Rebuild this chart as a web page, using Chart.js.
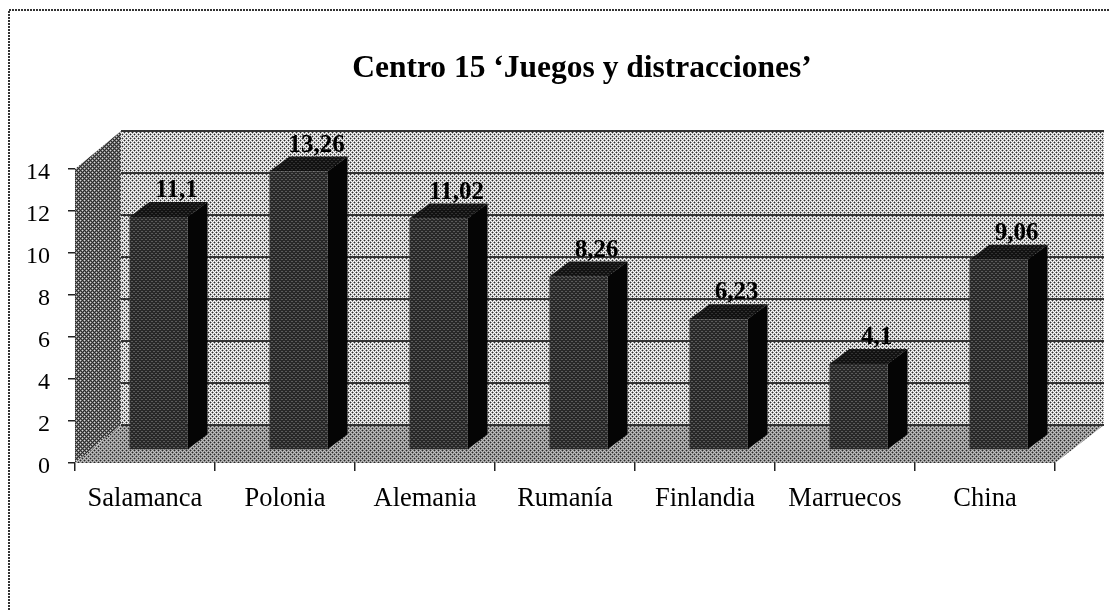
<!DOCTYPE html>
<html>
<head>
<meta charset="utf-8">
<script src="https://cdn.jsdelivr.net/npm/chart.js@4"></script>
<style>
  html, body { margin: 0; padding: 0; background: #fff; }
  #wrap { width: 1110px; height: 610px; }
</style>
</head>
<body>
<div id="wrap"><canvas id="chart" width="1110" height="610"></canvas></div>
<script>
const categories = ['Salamanca', 'Polonia', 'Alemania', 'Rumanía', 'Finlandia', 'Marruecos', 'China'];
const values = [11.1, 13.26, 11.02, 8.26, 6.23, 4.1, 9.06];
const yTicks = [0, 2, 4, 6, 8, 10, 12, 14];
const chartTitle = 'Centro 15 ‘Juegos y distracciones’';

const SERIF = '"Liberation Serif", serif';
// wall depth and how far the bars sit from the front plane
const DEPTH = { x: 46, y: -38 };
const BAR_OFFSET = { x: 13.5, y: -13 };
const BAR_DEPTH = { x: 20, y: -15 };

// halftone fills, the scan in the reference is a blurred black and white dither
const DOTS = [[1, .4, 0, .4], [.4, 0, .4, 0], [0, .4, 1, .4], [.4, 0, .4, 0]];
function dither(dot, ground) {
    const c = document.createElement('canvas');
    c.width = 4;
    c.height = 4;
    const g = c.getContext('2d');
    for (let y = 0; y < 4; y++) {
        for (let x = 0; x < 4; x++) {
            const v = Math.round(ground + (dot - ground) * DOTS[y][x]);
            g.fillStyle = `rgb(${v},${v},${v})`;
            g.fillRect(x, y, 1, 1);
        }
    }
    return document.getElementById('chart').getContext('2d').createPattern(c, 'repeat');
}

const fills = {
    wall: dither(40, 250),
    side: dither(215, 45),
    floor: dither(40, 190),
    barFront: dither(120, 20),
    barTop: dither(70, 5),
    barSide: '#050505'
};

function poly(ctx, pts, fill) {
    ctx.beginPath();
    pts.forEach((p, i) => i ? ctx.lineTo(p[0], p[1]) : ctx.moveTo(p[0], p[1]));
    ctx.closePath();
    ctx.fillStyle = fill;
    ctx.fill();
}

const scene3d = {
    id: 'scene3d',
    beforeDraw(chart) {
        const { ctx, chartArea: a } = chart;
        const dx = DEPTH.x, dy = DEPTH.y;

        // outer frame, only top and left survive in the scan
        ctx.save();
        ctx.strokeStyle = '#333';
        ctx.lineWidth = 2;
        ctx.setLineDash([2, 1]);
        ctx.beginPath();
        ctx.moveTo(9, 610);
        ctx.lineTo(9, 10);
        ctx.lineTo(1110, 10);
        ctx.stroke();
        ctx.restore();

        // title sits right of centre in the reference, so it is placed by hand
        ctx.save();
        ctx.font = 'bold 31.5px ' + SERIF;
        ctx.fillStyle = '#000';
        ctx.textAlign = 'center';
        ctx.textBaseline = 'alphabetic';
        ctx.fillText(chartTitle, 582, 77);
        ctx.restore();

        poly(ctx, [[a.left + dx, a.top + dy], [a.right + dx + 3, a.top + dy], [a.right + dx + 3, a.bottom + dy], [a.left + dx, a.bottom + dy]], fills.wall);
        poly(ctx, [[a.left, a.top], [a.left + dx, a.top + dy], [a.left + dx, a.bottom + dy], [a.left, a.bottom]], fills.side);
        poly(ctx, [[a.left, a.bottom], [a.left + dx, a.bottom + dy], [a.right + dx + 3, a.bottom + dy], [a.right, a.bottom]], fills.floor);

        // gridlines on the back wall only
        const y = chart.scales.y;
        ctx.save();
        ctx.strokeStyle = '#333';
        ctx.lineWidth = 2;
        yTicks.forEach(v => {
            const py = y.getPixelForValue(v) + dy;
            ctx.beginPath();
            ctx.moveTo(a.left + dx, py);
            ctx.lineTo(a.right + dx + 3, py);
            ctx.stroke();
        });
        ctx.restore();
    },
    beforeDatasetsDraw(chart) {
        const ctx = chart.ctx;
        ctx.save();
        ctx.translate(BAR_OFFSET.x, BAR_OFFSET.y);
        chart.getDatasetMeta(0).data.forEach(bar => {
            const l = bar.x - bar.width / 2, r = bar.x + bar.width / 2;
            poly(ctx, [[l, bar.y], [l + BAR_DEPTH.x, bar.y + BAR_DEPTH.y], [r + BAR_DEPTH.x, bar.y + BAR_DEPTH.y], [r, bar.y]], fills.barTop);
            poly(ctx, [[r, bar.y], [r + BAR_DEPTH.x, bar.y + BAR_DEPTH.y], [r + BAR_DEPTH.x, bar.base + BAR_DEPTH.y], [r, bar.base]], fills.barSide);
        });
    },
    afterDatasetsDraw(chart) {
        const ctx = chart.ctx;
        ctx.restore();
        // value labels with a decimal comma
        ctx.save();
        ctx.font = 'bold 25px ' + SERIF;
        ctx.fillStyle = '#000';
        ctx.textAlign = 'center';
        ctx.textBaseline = 'alphabetic';
        chart.getDatasetMeta(0).data.forEach((bar, i) => {
            ctx.fillText(String(values[i]).replace('.', ','), bar.x + BAR_OFFSET.x + 18, bar.y + BAR_OFFSET.y - 20);
        });
        ctx.restore();
    }
};

new Chart(document.getElementById('chart'), {
    type: 'bar',
    data: {
        labels: categories,
        datasets: [{
            data: values,
            backgroundColor: fills.barFront,
            borderWidth: 0,
            barPercentage: 0.415,
            categoryPercentage: 1,
            clip: false
        }]
    },
    plugins: [scene3d],
    options: {
        responsive: false,
        animation: false,
        events: [],
        layout: { padding: { left: 0, right: 55, top: 169, bottom: 0 } },
        plugins: {
            legend: { display: false },
            tooltip: { enabled: false },
            title: { display: false }
        },
        scales: {
            x: {
                afterFit(scale) { scale.height = 147; },
                border: { display: false },
                grid: { drawOnChartArea: false, offset: true, color: '#222', tickLength: 8, lineWidth: 1.5 },
                ticks: { color: '#000', padding: 12, maxRotation: 0, font: { family: SERIF, size: 26.5 } }
            },
            y: {
                min: 0,
                max: 14,
                afterFit(scale) { scale.width = 75; },
                afterBuildTicks(scale) { scale.ticks = yTicks.map(v => ({ value: v })); },
                border: { display: false },
                grid: { drawOnChartArea: false, color: '#222', tickLength: 7, lineWidth: 1.5 },
                ticks: { color: '#000', padding: 18, labelOffset: 4, font: { family: SERIF, size: 24 } }
            }
        }
    }
});
</script>
</body>
</html>
